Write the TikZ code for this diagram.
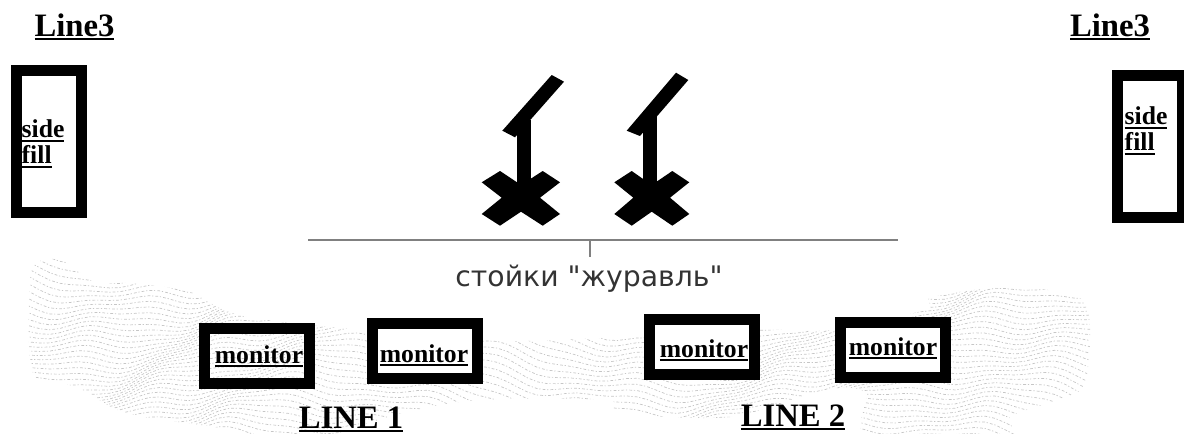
\documentclass[tikz,border=0pt]{standalone}
\usepackage{fontspec}
\setmainfont{Liberation Serif}
\newfontfamily\standfont{DejaVu Sans}
\usepackage{xcolor}

\newcommand{\heavyul}[1]{\leavevmode\setbox0=\hbox{#1}\rlap{\rule[-1.25pt]{\wd0}{0.6pt}}\box0}

\tikzset{
    monitorbox/.style={draw,line width=0.11cm,minimum width=1.05cm,minimum height=0.55cm,inner sep=0pt},
    sidebox/.style={draw,line width=0.11cm,minimum width=0.65cm,minimum height=1.42cm,inner sep=0pt},
    boldlabel/.style={font=\fontsize{7.3pt}{7.4pt}\selectfont\bfseries,inner sep=0pt},
    linelabel/.style={font=\fontsize{9.3pt}{11pt}\selectfont\bfseries,inner sep=0pt,anchor=base},
    hatchline/.style={gray!45,line width=0.2pt,dash pattern=on 0.35pt off 0.6pt on 0.8pt off 0.5pt}
}

\begin{document}
\begin{tikzpicture}
    \useasboundingbox (0,0) rectangle (11.84,-4.33);

    % Floor texture
    \begin{scope}
        \clip plot [smooth cycle] coordinates {
            (0.42,-2.60) (0.65,-2.62) (0.96,-2.83) (1.30,-2.83) (1.90,-2.92) (2.53,-3.18)
            (4.83,-3.40) (6.00,-3.38) (7.60,-3.30) (8.30,-3.30) (9.25,-3.10) (9.32,-2.97)
            (10.10,-2.87) (10.78,-2.97) (10.90,-3.27) (10.85,-3.83) (10.66,-3.97) (10.10,-4.17)
            (10.10,-4.40) (8.69,-4.40) (8.65,-3.93) (8.24,-3.90) (7.30,-4.17) (6.19,-4.13)
            (6.07,-4.00) (4.79,-4.00) (4.02,-4.13) (3.06,-4.40) (2.15,-4.27) (1.26,-4.13)
            (0.77,-3.87) (0.33,-3.73) (0.30,-2.80)
        };
        \foreach \row in {2.00,2.05,...,5.00} {
            \draw [hatchline,dash phase=13*\row pt] plot [domain=0:11.84,samples=120,variable=\t]
                (\t,{-\row+0.22*sin(55*\t+70*\row)+0.05*sin(240*\t+300*\row)+0.02*sin(520*\t)});
        }
    \end{scope}

    % Side fills
    \node (LeftTitle) [linelabel] at (0.745,-0.36) {\heavyul{Line3}};
    \node (LeftFill) [sidebox] at (0.49,-1.41) {};
    \node (LeftFillText) [boldlabel,anchor=north west,align=left] at (0.21,-1.19) {\heavyul{side}\\\heavyul{fill}};
    \node (RightTitle) [linelabel] at (11.10,-0.36) {\heavyul{Line3}};
    \node (RightFill) [sidebox] at (11.495,-1.465) {};
    \node (RightFillText) [boldlabel,anchor=north west,align=left] at (11.24,-1.06) {\heavyul{side}\\\heavyul{fill}};

    % Left stand
    \fill (5.517,-0.75) -- (5.64,-0.817) -- (5.15,-1.373) -- (5.023,-1.307) -- cycle;
    \fill (5.167,-1.20) rectangle (5.307,-1.90);
    \fill (4.817,-1.823) -- (5.00,-1.71) -- (5.21,-1.85) -- (5.427,-1.71) -- (5.60,-1.823)
        -- (5.40,-1.977) -- (5.60,-2.14) -- (5.427,-2.257) -- (5.21,-2.117) -- (5.00,-2.257)
        -- (4.817,-2.14) -- (5.017,-1.977) -- cycle;

    % Right stand
    \fill (6.76,-0.727) -- (6.883,-0.80) -- (6.40,-1.36) -- (6.267,-1.307) -- cycle;
    \fill (6.427,-1.15) rectangle (6.567,-1.90);
    \fill (6.143,-1.823) -- (6.317,-1.71) -- (6.517,-1.85) -- (6.723,-1.71) -- (6.893,-1.823)
        -- (6.70,-1.977) -- (6.893,-2.14) -- (6.723,-2.257) -- (6.517,-2.117) -- (6.317,-2.257)
        -- (6.143,-2.14) -- (6.333,-1.977) -- cycle;

    % Bracket over the stand label
    \coordinate (BracketL) at (3.08,-2.40);
    \coordinate (BracketR) at (8.98,-2.40);
    \coordinate (BracketM) at (5.90,-2.40);
    \coordinate (BracketEnd) at (5.90,-2.57);
    \draw [gray,line width=0.4pt] (BracketL) -- (BracketR);
    \draw [gray,line width=0.4pt] (BracketM) -- (BracketEnd);
    \node (StandText) [inner sep=0pt,text=black!80,font=\standfont\fontsize{8.05pt}{10pt}\selectfont] at (5.89,-2.79) {стойки "журавль"};

    % Monitors
    \node (MonitorA) [monitorbox] at (2.57,-3.56) {};
    \node (MonitorB) [monitorbox,fill=white] at (4.25,-3.51) {};
    \node (MonitorC) [monitorbox,fill=white] at (7.02,-3.47) {};
    \node (MonitorD) [monitorbox,fill=white] at (8.93,-3.495) {};
    \node (MonitorAText) [boldlabel,anchor=base] at (2.59,-3.63) {\heavyul{monitor}};
    \node (MonitorBText) [boldlabel,anchor=base] at (4.24,-3.62) {\heavyul{monitor}};
    \node (MonitorCText) [boldlabel,anchor=base] at (7.04,-3.57) {\heavyul{monitor}};
    \node (MonitorDText) [boldlabel,anchor=base] at (8.93,-3.55) {\heavyul{monitor}};

    % Line labels
    \node (LineOne) [linelabel] at (3.51,-4.28) {\heavyul{LINE 1}};
    \node (LineTwo) [linelabel] at (7.93,-4.26) {\heavyul{LINE 2}};
\end{tikzpicture}
\end{document}
